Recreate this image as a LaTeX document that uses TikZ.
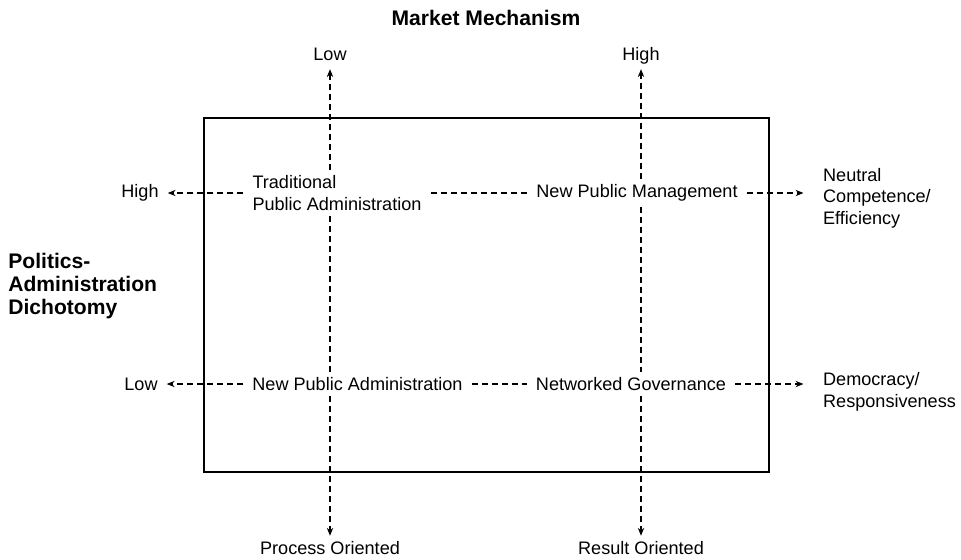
\documentclass[tikz,border=0pt]{standalone}
\usepackage{fontspec}
\setmainfont{Liberation Sans}
\usetikzlibrary{arrows.meta,positioning}

\begin{document}
\begin{tikzpicture}[x=0.02cm, y=-0.02cm, >={Stealth[length=4.5pt,width=3.6pt]},
      every node/.style={inner xsep=5pt, inner ysep=3pt, font=\fontsize{10.3}{12.3}\selectfont},
      txt/.style={align=left},
      head/.style={font=\fontsize{12}{13.3}\selectfont\bfseries, align=left},
      top end/.style={anchor=base, text depth=0pt, inner ysep=5pt},
      axis line/.style={dash pattern=on 3.4pt off 2.3pt, line width=0.6pt},
      frame/.style={draw, line width=1.5pt}]
      \useasboundingbox (0,0) rectangle (961,559);

      % titles of the two axes
      \node[head] (mm) at (486,18) {Market Mechanism};
      \node[head, anchor=west, inner xsep=0pt] (pad) at (8,286) {Politics-\\Administration\\Dichotomy};

      % ends of the axes
      \node[top end] (lowtop) at (330,60) {Low};
      \node[top end] (hightop) at (641,60) {High};
      \node (process) at (330,548) {Process Oriented};
      \node (result) at (641,548) {Result Oriented};
      \node (highleft) at (140,193) {High};
      \node (lowleft) at (141,384) {Low};
      \node[txt, anchor=west] (neutral) at (814,198) {Neutral\\Competence/\\Efficiency};
      \node[txt, anchor=west] (democ) at (814,392) {Democracy/\\Responsiveness};

      % the four models
      \node[txt] (tpa) at (337,193) {Traditional\\Public Administration};
      \node (npm) at (637,193) {New Public Management};
      \node (npa) at (357.5,384) {New Public Administration};
      \node (ng) at (631,384) {Networked Governance};

      \draw[frame] (204,118) rectangle (769,472);

      % horizontal axes
      \draw[axis line, ->] (tpa.west) -- (highleft.east);
      \draw[axis line] (tpa.east) -- (npm.west);
      \draw[axis line, ->, shorten >=6pt] (npm.east) -- (npm.east -| neutral.west);
      \draw[axis line, ->] (npa.west) -- (lowleft.east);
      \draw[axis line] (npa.east) -- (ng.west);
      \draw[axis line, ->, shorten >=6pt] (ng.east) -- (ng.east -| democ.west);

      % vertical axes
      \draw[axis line, ->] (tpa.north -| lowtop) -- (lowtop);
      \draw[axis line] (tpa.south -| lowtop) -- (npa.north -| lowtop);
      \draw[axis line, ->] (npa.south -| process) -- (process);
      \draw[axis line, ->] (npm.north -| hightop) -- (hightop);
      \draw[axis line] (npm.south -| hightop) -- (ng.north -| hightop);
      \draw[axis line, ->] (ng.south -| result) -- (result);
    \end{tikzpicture}
\end{document}
